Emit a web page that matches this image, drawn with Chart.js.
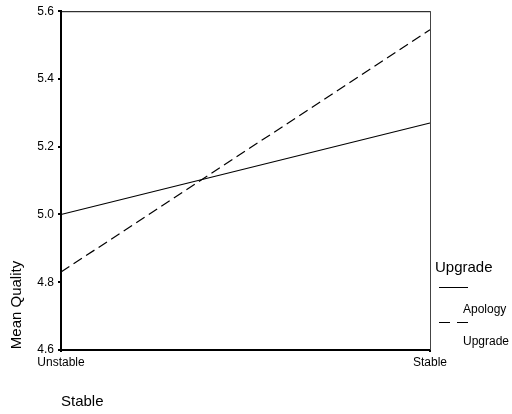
<!DOCTYPE html>
<html>
<head>
<meta charset="utf-8">
<script src="https://cdn.jsdelivr.net/npm/chart.js@4.4.1/dist/chart.umd.min.js"></script>
<style>
  html, body { margin: 0; padding: 0; background: #fff; }
  #wrap { width: 512px; height: 414px; position: relative; }
</style>
</head>
<body>
<div id="wrap"><canvas id="c" width="512" height="414"></canvas></div>
<script>
// Stability condition on the x axis
const categories = ['Unstable', 'Stable'];
// Mean quality for each recovery type
const apologyValues = [5.00, 5.27];
const upgradeValues = [4.83, 5.545];
const seriesNames = ['Apology', 'Upgrade'];
const yTicks = [4.6, 4.8, 5.0, 5.2, 5.4, 5.6];

const FONT = 'Liberation Sans, Arial, sans-serif';

// Frame, axis titles and the legend block at the lower right
const decorations = {
  id: 'decorations',
  afterDraw(chart) {
    const { ctx, chartArea: a } = chart;
    ctx.save();
    // top and right edges of the frame
    ctx.lineWidth = 1;
    ctx.strokeStyle = '#000';
    ctx.beginPath();
    ctx.moveTo(a.left, a.top + 0.5);
    ctx.lineTo(a.right + 0.5, a.top + 0.5);
    ctx.stroke();
    ctx.strokeStyle = '#444';
    ctx.beginPath();
    ctx.moveTo(a.right + 0.5, a.top);
    ctx.lineTo(a.right + 0.5, a.bottom);
    ctx.stroke();

    ctx.fillStyle = '#000';
    ctx.font = '15px ' + FONT;
    // x-axis title
    ctx.textAlign = 'left';
    ctx.textBaseline = 'middle';
    ctx.fillText('Stable', 61, 402);
    // y-axis title
    ctx.save();
    ctx.translate(17, 305);
    ctx.rotate(-Math.PI / 2);
    ctx.textAlign = 'center';
    ctx.fillText('Mean Quality', 0, 0);
    ctx.restore();

    // legend
    ctx.textAlign = 'left';
    ctx.fillText('Upgrade', 435, 268);
    ctx.lineWidth = 1;
    ctx.strokeStyle = '#000';
    ctx.beginPath();
    ctx.moveTo(439, 287.5);
    ctx.lineTo(468, 287.5);
    ctx.stroke();
    ctx.setLineDash([11, 7]);
    ctx.beginPath();
    ctx.moveTo(439, 322.5);
    ctx.lineTo(468, 322.5);
    ctx.stroke();
    ctx.setLineDash([]);
    ctx.font = '12px ' + FONT;
    ctx.fillText(seriesNames[0], 463, 310);
    ctx.fillText(seriesNames[1], 463, 342);
    ctx.restore();
  }
};

new Chart(document.getElementById('c'), {
  type: 'line',
  data: {
    labels: categories,
    datasets: [
      {
        label: seriesNames[0],
        data: apologyValues,
        borderColor: '#000',
        borderWidth: 1.2,
        pointRadius: 0,
        tension: 0
      },
      {
        label: seriesNames[1],
        data: upgradeValues,
        borderColor: '#000',
        borderWidth: 1.2,
        borderDash: [10, 5],
        pointRadius: 0,
        tension: 0
      }
    ]
  },
  options: {
    responsive: false,
    animation: false,
    devicePixelRatio: 1,
    layout: { padding: { top: 10, right: 82, left: 0, bottom: 0 } },
    plugins: { legend: { display: false }, tooltip: { enabled: false } },
    scales: {
      x: {
        type: 'category',
        offset: false,
        grid: { display: true, drawOnChartArea: false, tickLength: 2, color: '#000', lineWidth: 2 },
        border: { display: true, color: '#000', width: 2 },
        ticks: { color: '#000', font: { family: FONT, size: 12 }, padding: 3, maxRotation: 0, autoSkip: false },
        afterFit(s) { s.height = 64; }
      },
      y: {
        min: 4.6,
        max: 5.6,
        afterBuildTicks(s) { s.ticks = yTicks.map(v => ({ value: v })); },
        grid: { display: true, drawOnChartArea: false, tickLength: 3, color: '#000', lineWidth: 2 },
        border: { display: true, color: '#000', width: 2 },
        ticks: {
          color: '#000',
          font: { family: FONT, size: 12 },
          padding: 4,
          callback: v => Number(v).toFixed(1)
        },
        afterFit(s) { s.width = 61; }
      }
    }
  },
  plugins: [decorations]
});
</script>
</body>
</html>
